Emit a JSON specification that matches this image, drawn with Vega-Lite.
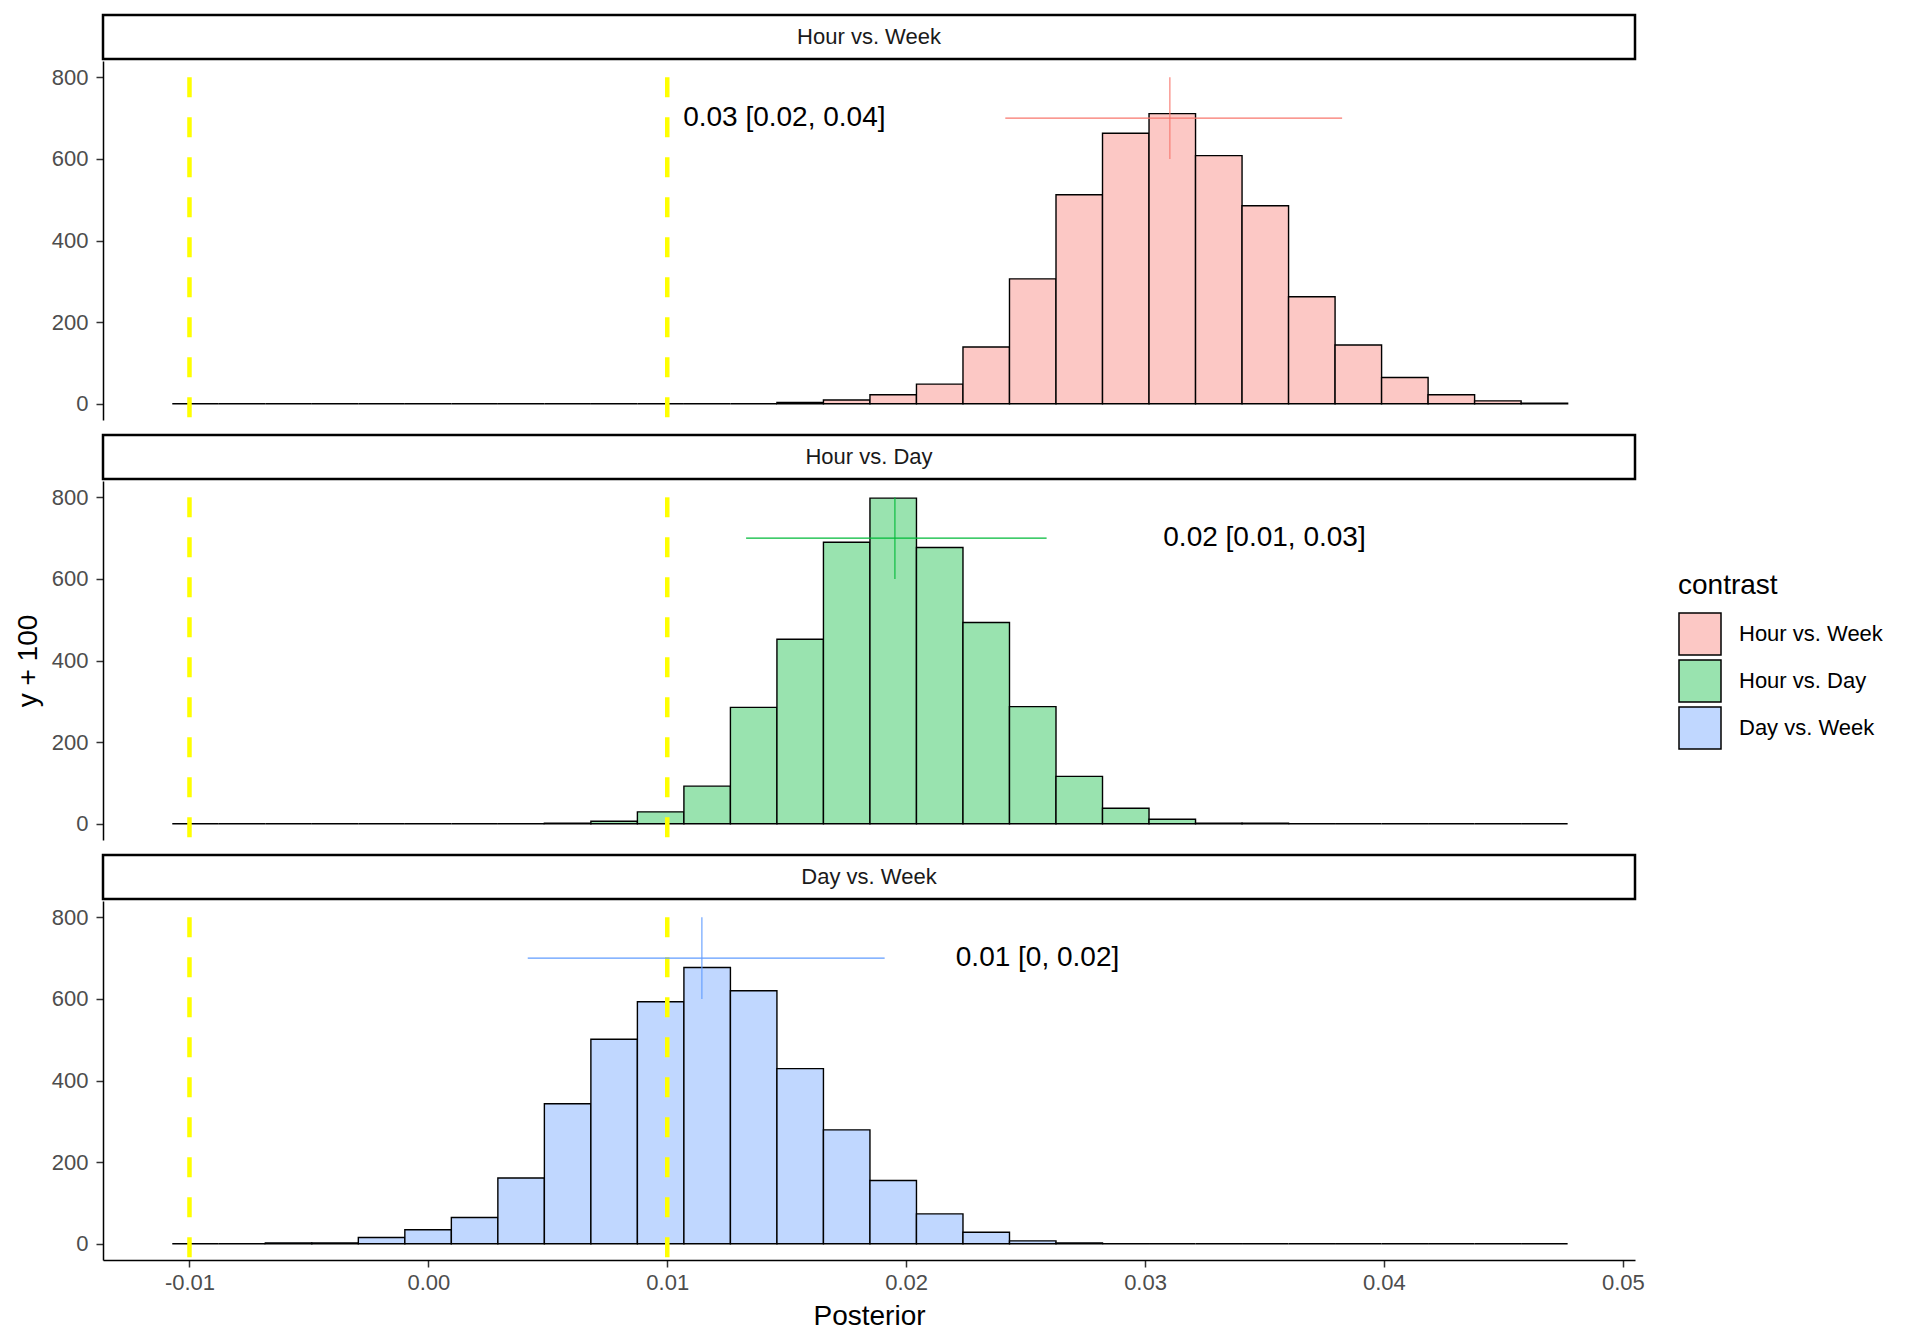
{
  "$schema": "https://vega.github.io/schema/vega-lite/v6.json",
  "padding": {"left": 14, "top": 13, "right": 0, "bottom": 0},
  "config": {
    "view": {"stroke": null},
    "font": "Liberation Sans",
    "axis": {
      "grid": false,
      "domainColor": "black",
      "domainWidth": 1.5,
      "tickColor": "#333333",
      "tickWidth": 1.5,
      "tickSize": 7,
      "labelColor": "#4D4D4D",
      "labelFontSize": 22,
      "titleFontSize": 28,
      "titleFontWeight": "normal",
      "titleColor": "black"
    },
    "legend": {
      "titleFontSize": 28,
      "titleFontWeight": "normal",
      "titleColor": "black",
      "labelFontSize": 22,
      "labelColor": "black"
    }
  },
  "datasets": {
    "bins": [
      {"contrast": "Hour vs. Week", "x0": -0.01072, "x1": -0.008773, "count": 0},
      {"contrast": "Hour vs. Week", "x0": -0.008773, "x1": -0.006826, "count": 0},
      {"contrast": "Hour vs. Week", "x0": -0.006826, "x1": -0.004879, "count": 0},
      {"contrast": "Hour vs. Week", "x0": -0.004879, "x1": -0.002932, "count": 0},
      {"contrast": "Hour vs. Week", "x0": -0.002932, "x1": -0.000985, "count": 0},
      {"contrast": "Hour vs. Week", "x0": -0.000985, "x1": 0.000962, "count": 0},
      {"contrast": "Hour vs. Week", "x0": 0.000962, "x1": 0.002909, "count": 0},
      {"contrast": "Hour vs. Week", "x0": 0.002909, "x1": 0.004856, "count": 0},
      {"contrast": "Hour vs. Week", "x0": 0.004856, "x1": 0.006803, "count": 0},
      {"contrast": "Hour vs. Week", "x0": 0.006803, "x1": 0.00875, "count": 0},
      {"contrast": "Hour vs. Week", "x0": 0.00875, "x1": 0.010697, "count": 0},
      {"contrast": "Hour vs. Week", "x0": 0.010697, "x1": 0.012644, "count": 0},
      {"contrast": "Hour vs. Week", "x0": 0.012644, "x1": 0.014591, "count": 0},
      {"contrast": "Hour vs. Week", "x0": 0.014591, "x1": 0.016538, "count": 3},
      {"contrast": "Hour vs. Week", "x0": 0.016538, "x1": 0.018485, "count": 9},
      {"contrast": "Hour vs. Week", "x0": 0.018485, "x1": 0.020432, "count": 22},
      {"contrast": "Hour vs. Week", "x0": 0.020432, "x1": 0.022379, "count": 48},
      {"contrast": "Hour vs. Week", "x0": 0.022379, "x1": 0.024326, "count": 139},
      {"contrast": "Hour vs. Week", "x0": 0.024326, "x1": 0.026273, "count": 306},
      {"contrast": "Hour vs. Week", "x0": 0.026273, "x1": 0.02822, "count": 512},
      {"contrast": "Hour vs. Week", "x0": 0.02822, "x1": 0.030167, "count": 663},
      {"contrast": "Hour vs. Week", "x0": 0.030167, "x1": 0.032114, "count": 711},
      {"contrast": "Hour vs. Week", "x0": 0.032114, "x1": 0.034061, "count": 608},
      {"contrast": "Hour vs. Week", "x0": 0.034061, "x1": 0.036008, "count": 485},
      {"contrast": "Hour vs. Week", "x0": 0.036008, "x1": 0.037955, "count": 262},
      {"contrast": "Hour vs. Week", "x0": 0.037955, "x1": 0.039902, "count": 144},
      {"contrast": "Hour vs. Week", "x0": 0.039902, "x1": 0.041849, "count": 64},
      {"contrast": "Hour vs. Week", "x0": 0.041849, "x1": 0.043796, "count": 22},
      {"contrast": "Hour vs. Week", "x0": 0.043796, "x1": 0.045743, "count": 7},
      {"contrast": "Hour vs. Week", "x0": 0.045743, "x1": 0.04769, "count": 1},
      {"contrast": "Hour vs. Day", "x0": -0.01072, "x1": -0.008773, "count": 0},
      {"contrast": "Hour vs. Day", "x0": -0.008773, "x1": -0.006826, "count": 0},
      {"contrast": "Hour vs. Day", "x0": -0.006826, "x1": -0.004879, "count": 0},
      {"contrast": "Hour vs. Day", "x0": -0.004879, "x1": -0.002932, "count": 0},
      {"contrast": "Hour vs. Day", "x0": -0.002932, "x1": -0.000985, "count": 0},
      {"contrast": "Hour vs. Day", "x0": -0.000985, "x1": 0.000962, "count": 0},
      {"contrast": "Hour vs. Day", "x0": 0.000962, "x1": 0.002909, "count": 0},
      {"contrast": "Hour vs. Day", "x0": 0.002909, "x1": 0.004856, "count": 0},
      {"contrast": "Hour vs. Day", "x0": 0.004856, "x1": 0.006803, "count": 1},
      {"contrast": "Hour vs. Day", "x0": 0.006803, "x1": 0.00875, "count": 6},
      {"contrast": "Hour vs. Day", "x0": 0.00875, "x1": 0.010697, "count": 29},
      {"contrast": "Hour vs. Day", "x0": 0.010697, "x1": 0.012644, "count": 92},
      {"contrast": "Hour vs. Day", "x0": 0.012644, "x1": 0.014591, "count": 285},
      {"contrast": "Hour vs. Day", "x0": 0.014591, "x1": 0.016538, "count": 452},
      {"contrast": "Hour vs. Day", "x0": 0.016538, "x1": 0.018485, "count": 690},
      {"contrast": "Hour vs. Day", "x0": 0.018485, "x1": 0.020432, "count": 798},
      {"contrast": "Hour vs. Day", "x0": 0.020432, "x1": 0.022379, "count": 677},
      {"contrast": "Hour vs. Day", "x0": 0.022379, "x1": 0.024326, "count": 493},
      {"contrast": "Hour vs. Day", "x0": 0.024326, "x1": 0.026273, "count": 287},
      {"contrast": "Hour vs. Day", "x0": 0.026273, "x1": 0.02822, "count": 116},
      {"contrast": "Hour vs. Day", "x0": 0.02822, "x1": 0.030167, "count": 38},
      {"contrast": "Hour vs. Day", "x0": 0.030167, "x1": 0.032114, "count": 11},
      {"contrast": "Hour vs. Day", "x0": 0.032114, "x1": 0.034061, "count": 1},
      {"contrast": "Hour vs. Day", "x0": 0.034061, "x1": 0.036008, "count": 1},
      {"contrast": "Hour vs. Day", "x0": 0.036008, "x1": 0.037955, "count": 0},
      {"contrast": "Hour vs. Day", "x0": 0.037955, "x1": 0.039902, "count": 0},
      {"contrast": "Hour vs. Day", "x0": 0.039902, "x1": 0.041849, "count": 0},
      {"contrast": "Hour vs. Day", "x0": 0.041849, "x1": 0.043796, "count": 0},
      {"contrast": "Hour vs. Day", "x0": 0.043796, "x1": 0.045743, "count": 0},
      {"contrast": "Hour vs. Day", "x0": 0.045743, "x1": 0.04769, "count": 0},
      {"contrast": "Day vs. Week", "x0": -0.01072, "x1": -0.008773, "count": 0},
      {"contrast": "Day vs. Week", "x0": -0.008773, "x1": -0.006826, "count": 0},
      {"contrast": "Day vs. Week", "x0": -0.006826, "x1": -0.004879, "count": 2},
      {"contrast": "Day vs. Week", "x0": -0.004879, "x1": -0.002932, "count": 2},
      {"contrast": "Day vs. Week", "x0": -0.002932, "x1": -0.000985, "count": 15},
      {"contrast": "Day vs. Week", "x0": -0.000985, "x1": 0.000962, "count": 34},
      {"contrast": "Day vs. Week", "x0": 0.000962, "x1": 0.002909, "count": 64},
      {"contrast": "Day vs. Week", "x0": 0.002909, "x1": 0.004856, "count": 161},
      {"contrast": "Day vs. Week", "x0": 0.004856, "x1": 0.006803, "count": 343},
      {"contrast": "Day vs. Week", "x0": 0.006803, "x1": 0.00875, "count": 501},
      {"contrast": "Day vs. Week", "x0": 0.00875, "x1": 0.010697, "count": 593},
      {"contrast": "Day vs. Week", "x0": 0.010697, "x1": 0.012644, "count": 677},
      {"contrast": "Day vs. Week", "x0": 0.012644, "x1": 0.014591, "count": 620},
      {"contrast": "Day vs. Week", "x0": 0.014591, "x1": 0.016538, "count": 429},
      {"contrast": "Day vs. Week", "x0": 0.016538, "x1": 0.018485, "count": 279},
      {"contrast": "Day vs. Week", "x0": 0.018485, "x1": 0.020432, "count": 155},
      {"contrast": "Day vs. Week", "x0": 0.020432, "x1": 0.022379, "count": 73},
      {"contrast": "Day vs. Week", "x0": 0.022379, "x1": 0.024326, "count": 28},
      {"contrast": "Day vs. Week", "x0": 0.024326, "x1": 0.026273, "count": 7},
      {"contrast": "Day vs. Week", "x0": 0.026273, "x1": 0.02822, "count": 2},
      {"contrast": "Day vs. Week", "x0": 0.02822, "x1": 0.030167, "count": 0},
      {"contrast": "Day vs. Week", "x0": 0.030167, "x1": 0.032114, "count": 0},
      {"contrast": "Day vs. Week", "x0": 0.032114, "x1": 0.034061, "count": 0},
      {"contrast": "Day vs. Week", "x0": 0.034061, "x1": 0.036008, "count": 0},
      {"contrast": "Day vs. Week", "x0": 0.036008, "x1": 0.037955, "count": 0},
      {"contrast": "Day vs. Week", "x0": 0.037955, "x1": 0.039902, "count": 0},
      {"contrast": "Day vs. Week", "x0": 0.039902, "x1": 0.041849, "count": 0},
      {"contrast": "Day vs. Week", "x0": 0.041849, "x1": 0.043796, "count": 0},
      {"contrast": "Day vs. Week", "x0": 0.043796, "x1": 0.045743, "count": 0},
      {"contrast": "Day vs. Week", "x0": 0.045743, "x1": 0.04769, "count": 0}
    ],
    "summary": [
      {"contrast": "Hour vs. Week", "mean": 0.03104, "lo": 0.02415, "hi": 0.03825, "label": "0.03 [0.02, 0.04]", "label_x": 0.0149},
      {"contrast": "Hour vs. Day", "mean": 0.01953, "lo": 0.0133, "hi": 0.02588, "label": "0.02 [0.01, 0.03]", "label_x": 0.0350},
      {"contrast": "Day vs. Week", "mean": 0.01145, "lo": 0.00416, "hi": 0.0191, "label": "0.01 [0, 0.02]", "label_x": 0.0255}
    ],
    "rope": [
      {"rope": -0.01},
      {"rope": 0.01}
    ]
  },
  "spacing": 10,
  "vconcat": [
    {
      "spacing": 0,
      "vconcat": [
        {
          "width": 1532,
          "height": 44,
          "view": {"stroke": "black", "strokeWidth": 2.5},
          "data": {"name": "summary"},
          "transform": [{"filter": "datum.contrast == 'Hour vs. Week'"}],
          "mark": {"type": "text", "fontSize": 22, "color": "#1A1A1A"},
          "encoding": {"text": {"field": "contrast"}}
        },
        {
          "width": 1532,
          "height": 359,
          "layer": [
            {
              "data": {"name": "bins"},
              "transform": [{"filter": "datum.contrast == 'Hour vs. Week'"}],
              "mark": {"type": "bar", "stroke": "black", "strokeWidth": 1.4},
              "encoding": {
                "x": {"field": "x0", "type": "quantitative", "scale": {"domain": [-0.01362, 0.05051], "nice": false, "zero": false}, "axis": null},
                "x2": {"field": "x1"},
                "y": {"field": "count", "type": "quantitative", "scale": {"domain": [-40, 840], "nice": false, "zero": false},
                  "axis": {"values": [0, 200, 400, 600, 800], "title": " ", "labelPadding": 8, "titlePadding": 9}},
                "y2": {"datum": 0},
                "fill": {"field": "contrast", "type": "nominal",
                  "scale": {"domain": ["Hour vs. Week", "Hour vs. Day", "Day vs. Week"], "range": ["#FCC8C5", "#99E3AF", "#C0D7FF"]},
                  "legend": {"title": "contrast", "orient": "none", "legendX": 1575, "legendY": 557, "symbolType": "square", "symbolSize": 1764, "symbolStrokeColor": "black", "symbolStrokeWidth": 1.5, "rowPadding": -1, "labelOffset": 17, "titlePadding": 12}}
              }
            },
            {
              "data": {"name": "rope"},
              "mark": {"type": "rule", "color": "#FFFF00", "strokeWidth": 4.5, "strokeDash": [20, 20]},
              "encoding": {
                "x": {"field": "rope", "type": "quantitative", "axis": null},
                "y": {"datum": 800},
                "y2": {"datum": -40}
              }
            },
            {
              "data": {"name": "summary"},
              "transform": [{"filter": "datum.contrast == 'Hour vs. Week'"}],
              "mark": {"type": "rule", "color": "#F8766D", "strokeWidth": 1.3},
              "encoding": {
                "x": {"field": "lo", "type": "quantitative", "axis": null},
                "x2": {"field": "hi"},
                "y": {"datum": 700}
              }
            },
            {
              "data": {"name": "summary"},
              "transform": [{"filter": "datum.contrast == 'Hour vs. Week'"}],
              "mark": {"type": "rule", "color": "#F8766D", "strokeWidth": 1.1},
              "encoding": {
                "x": {"field": "mean", "type": "quantitative", "axis": null},
                "y": {"datum": 600},
                "y2": {"datum": 800}
              }
            },
            {
              "data": {"name": "summary"},
              "transform": [{"filter": "datum.contrast == 'Hour vs. Week'"}],
              "mark": {"type": "text", "fontSize": 28, "color": "black", "align": "center", "baseline": "middle"},
              "encoding": {
                "x": {"field": "label_x", "type": "quantitative", "axis": null},
                "y": {"datum": 700},
                "text": {"field": "label"}
              }
            }
          ]
        }
      ]
    },
    {
      "spacing": 0,
      "vconcat": [
        {
          "width": 1532,
          "height": 44,
          "view": {"stroke": "black", "strokeWidth": 2.5},
          "data": {"name": "summary"},
          "transform": [{"filter": "datum.contrast == 'Hour vs. Day'"}],
          "mark": {"type": "text", "fontSize": 22, "color": "#1A1A1A"},
          "encoding": {"text": {"field": "contrast"}}
        },
        {
          "width": 1532,
          "height": 359,
          "layer": [
            {
              "data": {"name": "bins"},
              "transform": [{"filter": "datum.contrast == 'Hour vs. Day'"}],
              "mark": {"type": "bar", "stroke": "black", "strokeWidth": 1.4},
              "encoding": {
                "x": {"field": "x0", "type": "quantitative", "scale": {"domain": [-0.01362, 0.05051], "nice": false, "zero": false}, "axis": null},
                "x2": {"field": "x1"},
                "y": {"field": "count", "type": "quantitative", "scale": {"domain": [-40, 840], "nice": false, "zero": false},
                  "axis": {"values": [0, 200, 400, 600, 800], "title": "y + 100", "labelPadding": 8, "titlePadding": 9}},
                "y2": {"datum": 0},
                "fill": {"field": "contrast", "type": "nominal",
                  "scale": {"domain": ["Hour vs. Week", "Hour vs. Day", "Day vs. Week"], "range": ["#FCC8C5", "#99E3AF", "#C0D7FF"]},
                  "legend": {"title": "contrast", "orient": "none", "legendX": 1575, "legendY": 557, "symbolType": "square", "symbolSize": 1764, "symbolStrokeColor": "black", "symbolStrokeWidth": 1.5, "rowPadding": -1, "labelOffset": 17, "titlePadding": 12}}
              }
            },
            {
              "data": {"name": "rope"},
              "mark": {"type": "rule", "color": "#FFFF00", "strokeWidth": 4.5, "strokeDash": [20, 20]},
              "encoding": {
                "x": {"field": "rope", "type": "quantitative", "axis": null},
                "y": {"datum": 800},
                "y2": {"datum": -40}
              }
            },
            {
              "data": {"name": "summary"},
              "transform": [{"filter": "datum.contrast == 'Hour vs. Day'"}],
              "mark": {"type": "rule", "color": "#00BA38", "strokeWidth": 1.3},
              "encoding": {
                "x": {"field": "lo", "type": "quantitative", "axis": null},
                "x2": {"field": "hi"},
                "y": {"datum": 700}
              }
            },
            {
              "data": {"name": "summary"},
              "transform": [{"filter": "datum.contrast == 'Hour vs. Day'"}],
              "mark": {"type": "rule", "color": "#00BA38", "strokeWidth": 1.1},
              "encoding": {
                "x": {"field": "mean", "type": "quantitative", "axis": null},
                "y": {"datum": 600},
                "y2": {"datum": 800}
              }
            },
            {
              "data": {"name": "summary"},
              "transform": [{"filter": "datum.contrast == 'Hour vs. Day'"}],
              "mark": {"type": "text", "fontSize": 28, "color": "black", "align": "center", "baseline": "middle"},
              "encoding": {
                "x": {"field": "label_x", "type": "quantitative", "axis": null},
                "y": {"datum": 700},
                "text": {"field": "label"}
              }
            }
          ]
        }
      ]
    },
    {
      "spacing": 0,
      "vconcat": [
        {
          "width": 1532,
          "height": 44,
          "view": {"stroke": "black", "strokeWidth": 2.5},
          "data": {"name": "summary"},
          "transform": [{"filter": "datum.contrast == 'Day vs. Week'"}],
          "mark": {"type": "text", "fontSize": 22, "color": "#1A1A1A"},
          "encoding": {"text": {"field": "contrast"}}
        },
        {
          "width": 1532,
          "height": 359,
          "layer": [
            {
              "data": {"name": "bins"},
              "transform": [{"filter": "datum.contrast == 'Day vs. Week'"}],
              "mark": {"type": "bar", "stroke": "black", "strokeWidth": 1.4},
              "encoding": {
                "x": {"field": "x0", "type": "quantitative", "scale": {"domain": [-0.01362, 0.05051], "nice": false, "zero": false},
                  "axis": {"values": [-0.01, 0, 0.01, 0.02, 0.03, 0.04, 0.05], "labelExpr": "replace(format(datum.value, '.2f'), '\u2212', '-')", "title": "Posterior", "labelPadding": 5, "titlePadding": 9}},
                "x2": {"field": "x1"},
                "y": {"field": "count", "type": "quantitative", "scale": {"domain": [-40, 840], "nice": false, "zero": false},
                  "axis": {"values": [0, 200, 400, 600, 800], "title": " ", "labelPadding": 8, "titlePadding": 9}},
                "y2": {"datum": 0},
                "fill": {"field": "contrast", "type": "nominal",
                  "scale": {"domain": ["Hour vs. Week", "Hour vs. Day", "Day vs. Week"], "range": ["#FCC8C5", "#99E3AF", "#C0D7FF"]},
                  "legend": {"title": "contrast", "orient": "none", "legendX": 1575, "legendY": 557, "symbolType": "square", "symbolSize": 1764, "symbolStrokeColor": "black", "symbolStrokeWidth": 1.5, "rowPadding": -1, "labelOffset": 17, "titlePadding": 12}}
              }
            },
            {
              "data": {"name": "rope"},
              "mark": {"type": "rule", "color": "#FFFF00", "strokeWidth": 4.5, "strokeDash": [20, 20]},
              "encoding": {
                "x": {"field": "rope", "type": "quantitative"},
                "y": {"datum": 800},
                "y2": {"datum": -40}
              }
            },
            {
              "data": {"name": "summary"},
              "transform": [{"filter": "datum.contrast == 'Day vs. Week'"}],
              "mark": {"type": "rule", "color": "#619CFF", "strokeWidth": 1.3},
              "encoding": {
                "x": {"field": "lo", "type": "quantitative"},
                "x2": {"field": "hi"},
                "y": {"datum": 700}
              }
            },
            {
              "data": {"name": "summary"},
              "transform": [{"filter": "datum.contrast == 'Day vs. Week'"}],
              "mark": {"type": "rule", "color": "#619CFF", "strokeWidth": 1.1},
              "encoding": {
                "x": {"field": "mean", "type": "quantitative"},
                "y": {"datum": 600},
                "y2": {"datum": 800}
              }
            },
            {
              "data": {"name": "summary"},
              "transform": [{"filter": "datum.contrast == 'Day vs. Week'"}],
              "mark": {"type": "text", "fontSize": 28, "color": "black", "align": "center", "baseline": "middle"},
              "encoding": {
                "x": {"field": "label_x", "type": "quantitative"},
                "y": {"datum": 700},
                "text": {"field": "label"}
              }
            }
          ]
        }
      ]
    }
  ]
}
